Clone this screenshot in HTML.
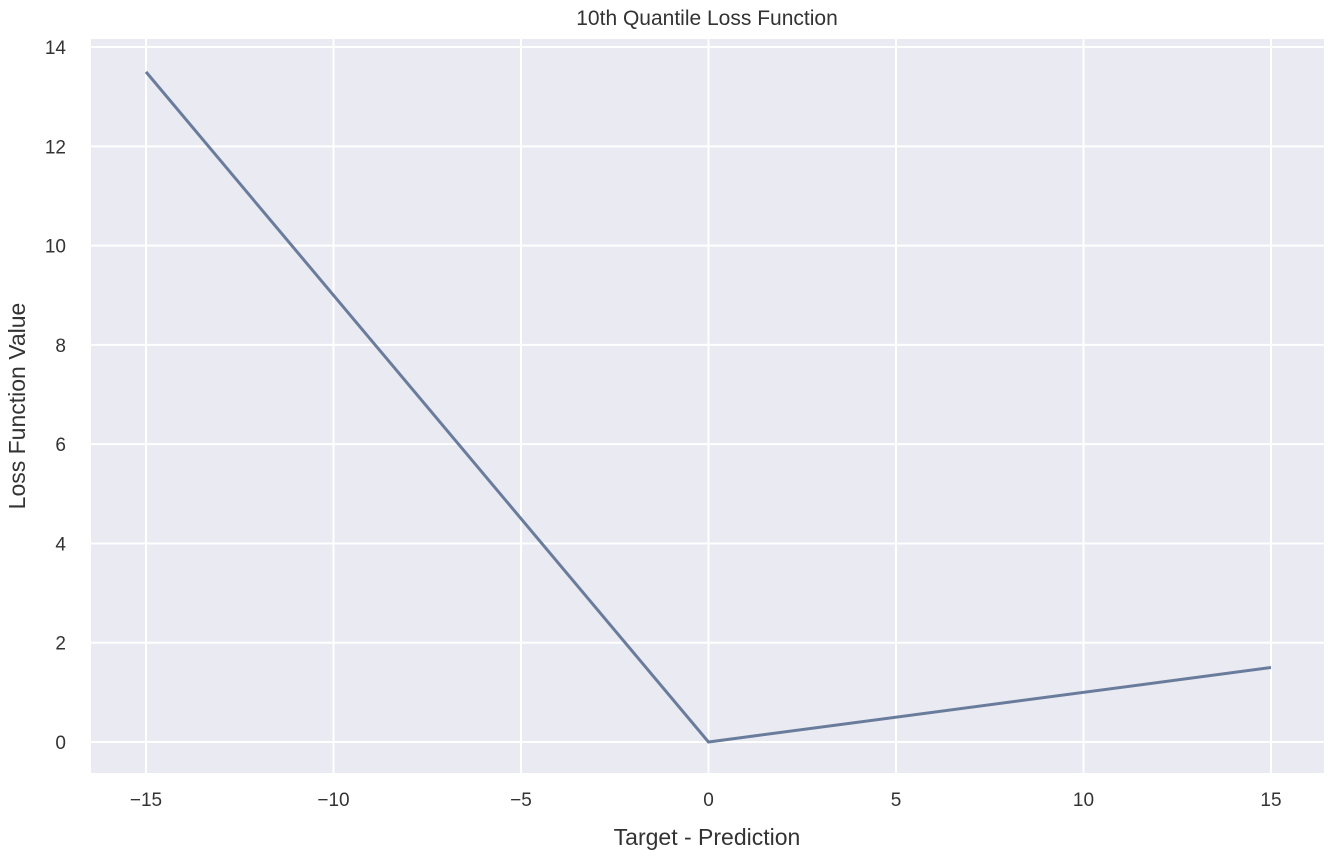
<!DOCTYPE html>
<html><head><meta charset="utf-8"><style>
body{margin:0;background:#fff;}
svg{display:block;font-family:"Liberation Sans",sans-serif;}
</style></head><body>
<svg id="chart" width="1334" height="862">
<rect x="91" y="39" width="1233" height="734" fill="#eaeaf2"/>
<g id="grid"></g><g id="ticks"></g><g id="series"></g>
<text x="707" y="25" text-anchor="middle" font-size="21" fill="#333">10th Quantile Loss Function</text>
<text x="707" y="845" text-anchor="middle" font-size="23" fill="#333">Target - Prediction</text>
<text transform="translate(25,406) rotate(-90)" text-anchor="middle" font-size="23" fill="#333">Loss Function Value</text>
</svg>
<script>
const xValues=[-15,0,15];
const yValues=[13.5,0,1.5];
const xTicks=[-15,-10,-5,0,5,10,15];
const yTicks=[0,2,4,6,8,10,12,14];
const ns="http://www.w3.org/2000/svg";
function X(v){return 146+(v+15)*37.5;}
function Y(v){return 742-v*49.64;}
function mk(t,a,p){const e=document.createElementNS(ns,t);for(const k in a)e.setAttribute(k,a[k]);p.appendChild(e);return e;}
const g=document.getElementById('grid'),tk=document.getElementById('ticks'),s=document.getElementById('series');
xTicks.forEach(v=>{
 const l=mk('line',{x1:X(v),x2:X(v),y1:39,y2:773,stroke:'#fff','stroke-width':2},g);
 
 
 const t=mk('text',{x:X(v),y:806,'text-anchor':'middle','font-size':19,fill:'#333'},tk);
 t.textContent=(v<0?'\u2212'+(-v):v);
 
 
});
yTicks.forEach(v=>{
 const l=mk('line',{x1:91,x2:1324,y1:Y(v),y2:Y(v),stroke:'#fff','stroke-width':2},g);
 
 
 const t=mk('text',{x:66,y:Y(v)+7,'text-anchor':'end','font-size':19,fill:'#333'},tk);
 t.textContent=v;
 
 
});
const p=mk('polyline',{points:xValues.map((v,i)=>X(v)+','+Y(yValues[i])).join(' '),fill:'none',stroke:'#6a7c9c','stroke-width':3},s);


</script>
</body></html>
